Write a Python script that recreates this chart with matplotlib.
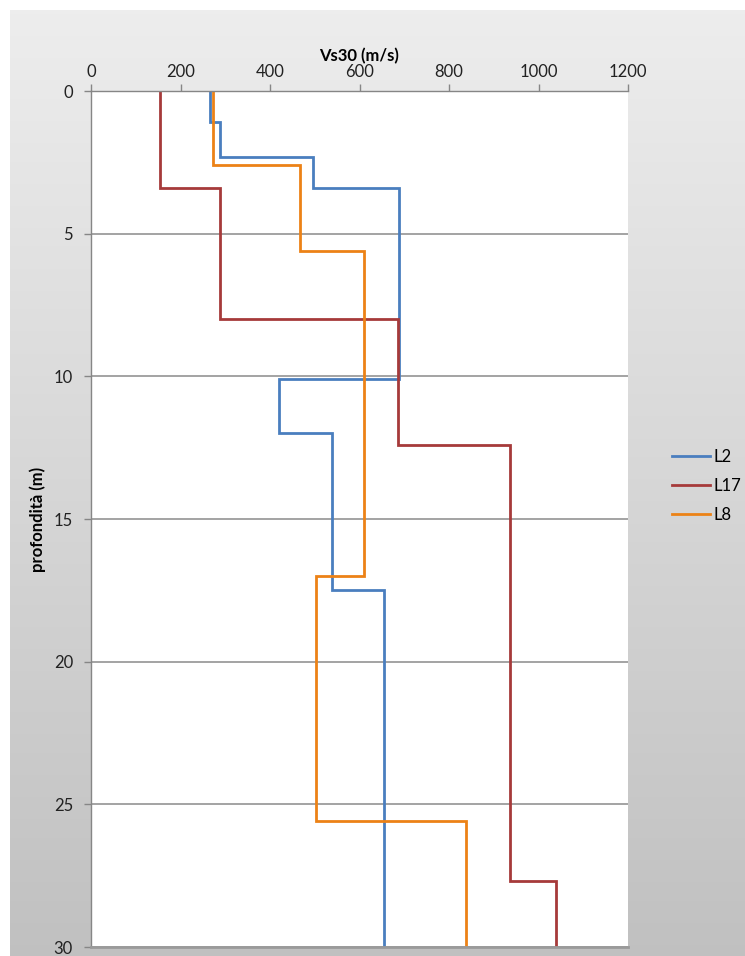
import numpy as np
import matplotlib
matplotlib.use("Agg")
import matplotlib.pyplot as plt

plt.rcParams['font.family'] = ['Lato', 'DejaVu Sans']

# layer boundaries (m) and shear-wave velocities (m/s) per profile
l2_depth = [0, 1.1, 2.3, 3.4, 10.1, 12.0, 17.5, 30]
l2_vs = [265, 288, 495, 688, 419, 539, 654]

l17_depth = [0, 3.4, 8.0, 12.4, 27.7, 30]
l17_vs = [155, 288, 687, 937, 1039]

l8_depth = [0, 2.6, 5.6, 17.0, 25.6, 30]
l8_vs = [272, 467, 611, 502, 837]

series = [
    ("L2", l2_depth, l2_vs, "#4a7ebf"),
    ("L17", l17_depth, l17_vs, "#a63a3a"),
    ("L8", l8_depth, l8_vs, "#ec8216"),
]

x_ticks = [0, 200, 400, 600, 800, 1000, 1200]
y_ticks = [0, 5, 10, 15, 20, 25, 30]

W, H = 745, 956
fig = plt.figure(figsize=(W / 100, H / 100), dpi=100)
fig.patch.set_facecolor("white")

# gray gradient chart background
bg = fig.add_axes([10 / W, 0, 1 - 10 / W, 1 - 10 / H])
grad = np.linspace(0.93, 0.755, 256).reshape(-1, 1)
bg.imshow(np.dstack([grad, grad, grad]), aspect="auto", extent=[0, 1, 0, 1])
bg.set_axis_off()

left, right, top, bottom = 91, 628, 91, 947
ax = fig.add_axes([left / W, 1 - bottom / H, (right - left) / W, (bottom - top) / H])
ax.set_facecolor("white")

for name, depth, vs, col in series:
    d = np.asarray(depth, dtype=float)
    v = np.asarray(vs, dtype=float)
    xs = np.repeat(v, 2)
    ys = np.repeat(d, 2)[1:-1]
    ax.plot(xs, ys, color=col, lw=2.0, label=name, solid_joinstyle="miter")

ax.set_xlim(0, 1200)
ax.set_ylim(30, 0)
ax.set_xticks(x_ticks)
ax.set_yticks(y_ticks)
ax.xaxis.tick_top()
ax.xaxis.set_label_position("top")
ax.tick_params(axis="x", direction="out", length=5, width=1, color="#868686",
               labelsize=12, pad=3, labelcolor="#222222")
ax.tick_params(axis="y", direction="out", length=5, width=1, color="#868686",
               labelsize=12, pad=8, labelcolor="#222222")
ax.set_xlabel("Vs30 (m/s)", fontsize=12, fontweight="bold", labelpad=2)

for y in y_ticks[1:]:
    ax.axhline(y, color="#8a8a8a", lw=1.1, zorder=0.5)

for s in ["top", "left"]:
    ax.spines[s].set_color("#868686")
    ax.spines[s].set_linewidth(1.0)
ax.spines["right"].set_visible(False)
ax.spines["bottom"].set_color("#9a9a9a")
ax.spines["bottom"].set_linewidth(2.0)

fig.text(38 / W, 1 - 519 / H, "profondità (m)", rotation=90, ha="center", va="center",
         fontsize=12, fontweight="bold")

fig.legend(loc="center left", bbox_to_anchor=(672 / W, 1 - 486 / H), frameon=False,
           fontsize=12, handlelength=2.3, handletextpad=0.2, labelspacing=0.8,
           borderpad=0, borderaxespad=0)

fig.savefig("out.png", dpi=100)
